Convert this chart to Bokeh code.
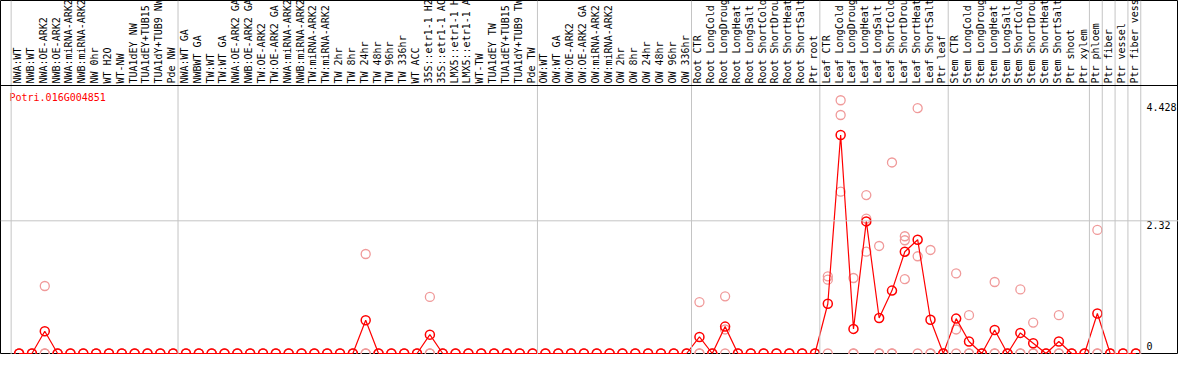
from math import pi
from bokeh.plotting import figure
from bokeh.models import Range1d, Span, ColumnDataSource
from bokeh.core.properties import value
from bokeh.embed import file_html
from bokeh.resources import INLINE

gene_id = "Potri.016G004851"

labels = [
    # NW group
    "NWA:WT", "NWB:WT", "NWA:OE-ARK2", "NWB:OE-ARK2", "NWA:miRNA-ARK2", "NWB:miRNA-ARK2",
    "NW 0hr", "WT H2O", "WT-NW", "TUA1dEY NW", "TUA1dEY+TUB15", "TUA1dY+TUB9 NW", "Pde NW",
    # TW group
    "NWA:WT GA", "NWBWT GA", "TW:WT", "TW:WT GA", "NWA:OE-ARK2 GA", "NWB:OE-ARK2 GA",
    "TW:OE-ARK2", "TW:OE-ARK2 GA", "NWA:miRNA-ARK2", "NWB:miRNA-ARK2", "TW:miRNA-ARK2",
    "TW:miRNA-ARK2", "TW 2hr", "TW 8hr", "TW 24hr", "TW 48hr", "TW 96hr", "TW 336hr",
    "WT ACC", "35S::etr1-1 H2", "35S::etr1-1 AC", "LMX5::etr1-1 H", "LMX5::etr1-1 A",
    "WT-TW", "TUA1dEY TW", "TUA1dEY+TUB15", "TUA1dY+TUB9 TW", "Pde TW",
    # OW group
    "OW:WT", "OW:WT GA", "OW:OE-ARK2", "OW:OE-ARK2 GA", "OW:miRNA-ARK2", "OW:miRNA-ARK2",
    "OW 2hr", "OW 8hr", "OW 24hr", "OW 48hr", "OW 96hr", "OW 336hr",
    # Root
    "Root CTR", "Root LongCold", "Root LongDroug", "Root LongHeat", "Root LongSalt",
    "Root ShortCold", "Root ShortDrou", "Root ShortHeat", "Root ShortSalt", "Ptr root",
    # Leaf
    "Leaf CTR", "Leaf LongCold", "Leaf LongDroug", "Leaf LongHeat", "Leaf LongSalt",
    "Leaf ShortCold", "Leaf ShortDrou", "Leaf ShortHeat", "Leaf ShortSalt", "Ptr leaf",
    # Stem
    "Stem CTR", "Stem LongCold", "Stem LongDroug", "Stem LongHeat", "Stem LongSalt",
    "Stem ShortCold", "Stem ShortDrou", "Stem ShortHeat", "Stem ShortSalt", "Ptr shoot",
    "Ptr xylem",
    # Ptr tissues
    "Ptr phloem", "Ptr fiber", "Ptr vessel", "Ptr fiber vess",
]

# index where each group of categories starts (last = end)
group_starts = [0, 13, 41, 53, 63, 73, 84, 85, 86, 87, 88]

mean_vals = [
    0, 0, 0.39, 0, 0, 0, 0, 0, 0, 0, 0, 0, 0,
    0, 0, 0, 0, 0, 0, 0, 0, 0, 0, 0, 0, 0, 0, 0.58, 0, 0, 0, 0, 0.33, 0, 0, 0, 0, 0, 0, 0, 0,
    0, 0, 0, 0, 0, 0, 0, 0, 0, 0, 0, 0,
    0.29, 0, 0.47, 0, 0, 0, 0, 0, 0, 0,
    0.87, 3.82, 0.43, 2.31, 0.62, 1.10, 1.78, 1.99, 0.59, 0,
    0.61, 0.21, 0, 0.41, 0, 0.36, 0.18, 0, 0.21, 0, 0,
    0.70, 0, 0, 0,
]

rep1 = [
    0, 0, 1.18, 0, 0, 0, 0, 0, 0, 0, 0, 0, 0,
    0, 0, 0, 0, 0, 0, 0, 0, 0, 0, 0, 0, 0, 0, 1.74, 0, 0, 0, 0, 0.99, 0, 0, 0, 0, 0, 0, 0, 0,
    0, 0, 0, 0, 0, 0, 0, 0, 0, 0, 0, 0,
    0.90, 0, 1.00, 0, 0, 0, 0, 0, 0, 0,
    1.35, 4.428, 1.32, 2.77, 1.88, 3.34, 2.05, 4.29, 1.81, 0,
    1.40, 0.67, 0, 1.25, 0, 1.12, 0.54, 0, 0.67, 0, 0,
    2.16, 0, 0, 0,
]

rep2 = [
    0, 0, 0, 0, 0, 0, 0, 0, 0, 0, 0, 0, 0,
    0, 0, 0, 0, 0, 0, 0, 0, 0, 0, 0, 0, 0, 0, 0, 0, 0, 0, 0, 0, 0, 0, 0, 0, 0, 0, 0, 0,
    0, 0, 0, 0, 0, 0, 0, 0, 0, 0, 0, 0,
    0, 0, 0.42, 0, 0, 0, 0, 0, 0, 0,
    1.29, 4.17, 0, 2.36, 0, 0, 1.98, 1.70, 0, 0,
    0.42, 0, 0, 0, 0, 0, 0, 0, 0, 0, 0,
    0, 0, 0, 0,
]

rep3 = [
    0, 0, 0, 0, 0, 0, 0, 0, 0, 0, 0, 0, 0,
    0, 0, 0, 0, 0, 0, 0, 0, 0, 0, 0, 0, 0, 0, 0, 0, 0, 0, 0, 0, 0, 0, 0, 0, 0, 0, 0, 0,
    0, 0, 0, 0, 0, 0, 0, 0, 0, 0, 0, 0,
    0, 0, 0, 0, 0, 0, 0, 0, 0, 0,
    0, 2.83, 0, 1.78, 0, 0, 1.30, 0, 0, 0,
    0, 0, 0, 0, 0, 0, 0, 0, 0, 0, 0,
    0, 0, 0, 0,
]

ytick_vals = [4.428, 2.32, 0]
ytick_labels = ["4.428", "2.32", "0"]
grid_vals = [2.32]

# ---------------- layout / style ----------------
W, H = 1178, 354
HDR_PX = 85
X0, X1 = -1.45, 90.32
Y0, YHDR = -0.0175, 4.686
k = (H - HDR_PX) / (YHDR - Y0)
Y1 = YHDR + HDR_PX / k

RED = "#ff0000"
PINK = "#f09a9a"
GRAY = "#c4c4c4"
FONT = value("DejaVu Sans Mono")
ytick_dy = [7, 4, -7]
SEP_SHIFT = 0.62

xs = list(range(len(labels)))

p = figure(width=W, height=H, output_backend="svg", toolbar_location=None,
           x_range=Range1d(X0, X1), y_range=Range1d(Y0, Y1),
           x_axis_location=None, y_axis_location=None,
           min_border=0, min_border_left=0, min_border_right=0,
           min_border_top=0, min_border_bottom=0)
p.grid.visible = False
p.outline_line_color = "black"
p.outline_line_width = 1
p.background_fill_color = "white"
p.border_fill_color = "white"

# group separators (full height, through header)
for s in group_starts:
    p.add_layout(Span(location=s - SEP_SHIFT, dimension="height",
                      line_color=GRAY, line_width=1))
for g in grid_vals:
    p.add_layout(Span(location=g, dimension="width", line_color=GRAY, line_width=1))
# header / plot separator
p.add_layout(Span(location=YHDR, dimension="width", line_color="black", line_width=1))

# header labels
hdr = ColumnDataSource(dict(x=xs, y=[YHDR] * len(xs), text=labels))
p.text(x="x", y="y", text="text", source=hdr, angle=pi / 2,
       text_align="left", text_baseline="middle", x_offset=-1.5, y_offset=-2,
       text_font=FONT, text_font_size="10px", text_color="black")

# replicates
rep_x = xs * 3
rep_y = rep1 + rep2 + rep3
p.scatter(rep_x, rep_y, marker="circle", size=9, fill_color=None,
          line_color=PINK, line_width=1.3)

# mean line + points
p.line(xs, mean_vals, line_color=RED, line_width=1.2)
p.scatter(xs, mean_vals, marker="circle", size=9, fill_color=None,
          line_color=RED, line_width=1.5)

# gene id
p.text(x=[X0], y=[YHDR], text=[gene_id], x_offset=9, y_offset=12,
       text_align="left", text_baseline="middle",
       text_font=FONT, text_font_size="10px", text_color=RED)

# value labels on the right
ysrc = ColumnDataSource(dict(x=[X1] * len(ytick_vals), y=ytick_vals,
                             text=ytick_labels, dy=ytick_dy))
p.text(x="x", y="y", text="text", source=ysrc, x_offset=-32, y_offset="dy",
       text_align="left", text_baseline="middle",
       text_font=FONT, text_font_size="10px", text_color="black")

open("out.html", "w").write(file_html(p, INLINE))
